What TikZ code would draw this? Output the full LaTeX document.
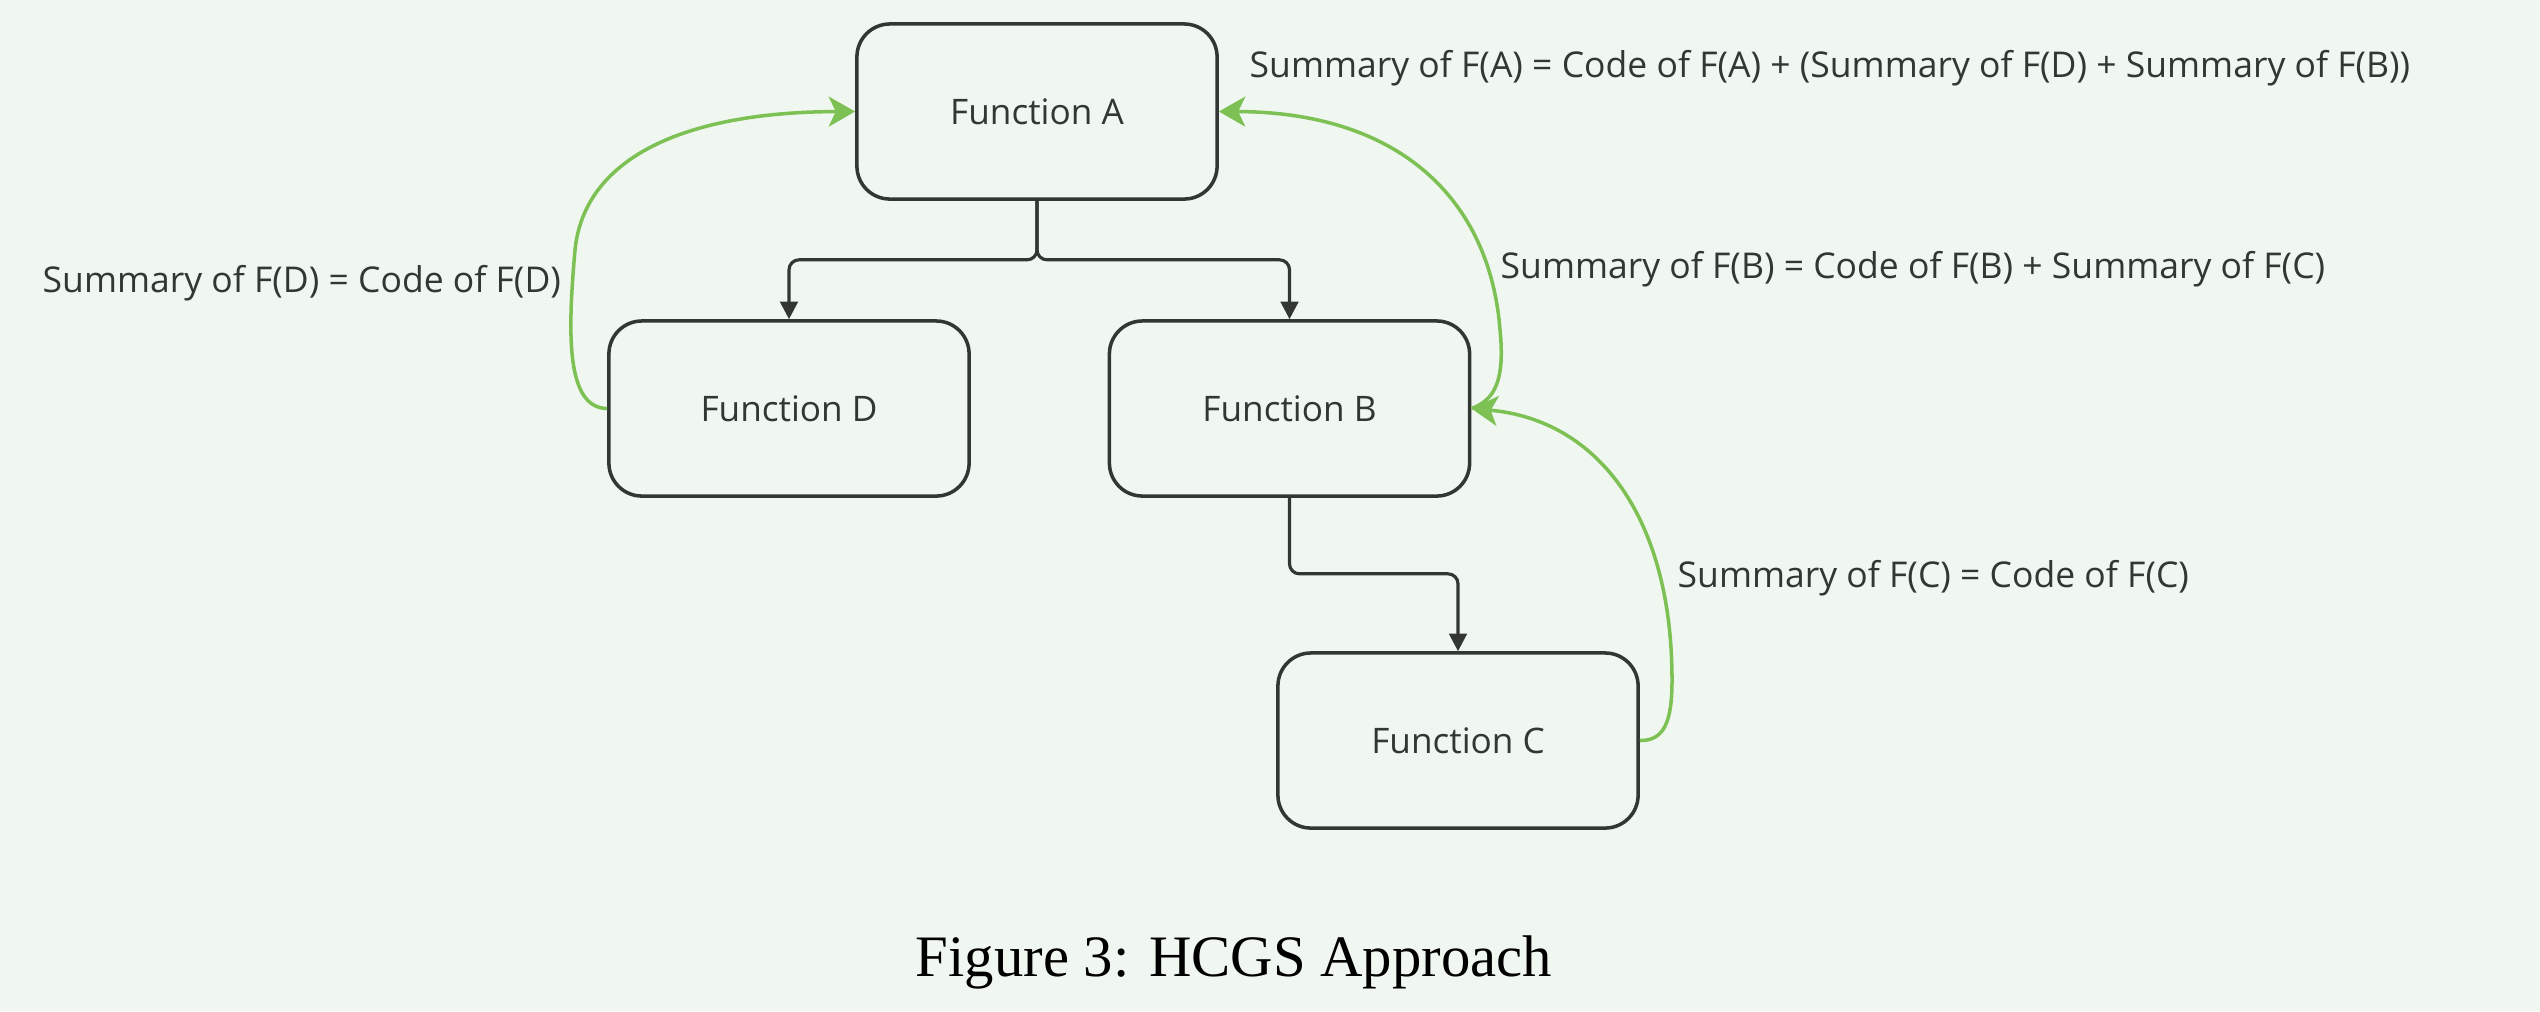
\documentclass[tikz,border=0pt]{standalone}
\usepackage{fontspec}
\setmainfont{Liberation Serif}
\newfontfamily\diagfont{Open Sans}
\usetikzlibrary{arrows.meta}
\definecolor{bgc}{RGB}{240,246,240}
\definecolor{grn}{RGB}{125,193,85}
\definecolor{drk}{RGB}{50,55,52}
\tikzset{
  fnbox/.style={draw=drk, line width=1pt, rounded corners=0.33cm, minimum width=3.6cm, minimum height=1.75cm, text=drk, font=\diagfont\fontsize{10}{12}\selectfont},
  conn/.style={draw=drk, line width=0.9pt, rounded corners=0.1cm, -{Triangle[length=5pt,width=5pt]}},
  summ/.style={draw=grn, line width=1pt, -{Stealth[length=7.5pt,width=8.5pt,inset=2pt]}},
  lbl/.style={anchor=west, text=drk, inner sep=0pt, font=\diagfont\fontsize{10.1}{12}\selectfont}
}
\begin{document}
\begin{tikzpicture}[x=0.01cm, y=-0.01cm]
\fill[bgc] (0,0) rectangle (2540,1011);
\useasboundingbox (0,0) rectangle (2540,1011);

\node[fnbox] (A) at (1037,111.5) {Function A};
\node[fnbox] (D) at (789,408.5) {Function D};
\node[fnbox] (B) at (1289.5,408.5) {Function B};
\node[fnbox] (C) at (1458,740.5) {Function C};

\draw[conn] (A.south) -- ++(0,59) -| (D.north);
\draw[conn] (A.south) -- ++(0,59) -| (B.north);
\draw[conn] (B.south) -- ++(0,76) -| (C.north);

\draw[summ] (D.west) .. controls (565,408) and (568,330) .. (575,250)
  .. controls (584,160) and (680,112) .. (A.west);
\draw[summ] (B.east) .. controls (1495,400) and (1505,380) .. (1500,330)
  .. controls (1490,200) and (1400,112) .. (A.east);
\draw[summ] (C.east) .. controls (1665,741) and (1672,720) .. (1672,680)
  .. controls (1672,520) and (1600,420) .. (B.east);

\node[lbl] (LA) at (1249,68) {Summary of F(A) = Code of F(A) + (Summary of F(D) + Summary of F(B))};
\node[lbl] (LB) at (1500,269) {Summary of F(B) = Code of F(B) + Summary of F(C)};
\node[lbl] (LD) at (42,283) {Summary of F(D) = Code of F(D)};
\node[lbl] (LC) at (1677,578) {Summary of F(C) = Code of F(C)};

\node[text=black, font=\fontsize{16.7}{20}\selectfont] (cap) at (1234,962) {Figure 3: HCGS Approach};
\end{tikzpicture}
\end{document}
